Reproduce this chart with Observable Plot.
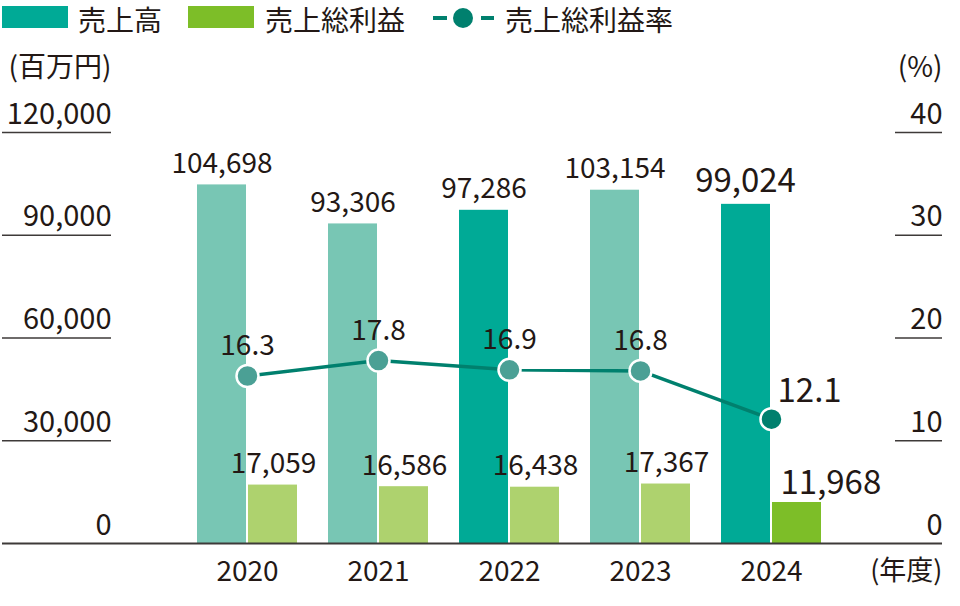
<!DOCTYPE html>
<html>
<head>
<meta charset="utf-8">
<script src="https://cdn.jsdelivr.net/npm/d3@7"></script>
<script src="https://cdn.jsdelivr.net/npm/@observablehq/plot@0.6"></script>
<style>
  html, body { margin: 0; padding: 0; background: #fff; }
  body { width: 960px; height: 606px; overflow: hidden; font-family: 'Noto Sans CJK JP', 'Noto Sans', sans-serif; color: #231815; }
  #legend { position: relative; height: 36px; font-size: 28px; line-height: 1; }
  #legend .sw { position: absolute; top: 6px; width: 66px; height: 22px; }
  #legend .lb { position: absolute; top: 4px; white-space: nowrap; line-height: 30px; height: 30px; }
  #legend svg.ln { position: absolute; top: 6px; }
  #chart svg { display: block; }
</style>
</head>
<body>
<div id="legend">
  <div class="sw" style="left:2px;background:#00AA96"></div>
  <div class="lb" style="left:78px">売上高</div>
  <div class="sw" style="left:188px;background:#7DBE28"></div>
  <div class="lb" style="left:265px">売上総利益</div>
  <svg class="ln" width="64" height="24" style="left:432px">
    <line x1="1" x2="62" y1="12" y2="12" stroke="#00806E" stroke-width="4" stroke-dasharray="14 34"></line>
    <circle cx="31" cy="12" r="10" fill="#00806E"></circle>
  </svg>
  <div class="lb" style="left:505px">売上総利益率</div>
</div>
<div id="chart"></div>
<script>
// ---- data ----
const years = ["2020", "2021", "2022", "2023", "2024"];
const sales = [104698, 93306, 97286, 103154, 99024];          // 売上高 (百万円)
const grossProfit = [17059, 16586, 16438, 17367, 11968];      // 売上総利益 (百万円)
const grossMargin = [16.3, 17.8, 16.9, 16.8, 12.1];           // 売上総利益率 (%)
const leftTicks = [0, 30000, 60000, 90000, 120000];
const rightTicks = [0, 10, 20, 30, 40];

// ---- build table ----
const data = years.map((year, i) => ({year, sales: sales[i], gross: grossProfit[i], margin: grossMargin[i]}));
const RATE = 120000 / 40; // right axis (%) mapped onto the left axis scale
const latest = years[years.length - 1];
const darkSalesYears = new Set(["2022", latest]);

const ink = "#231815";
const axisInk = "#3e3a39";
const fmt = d3.format(",");
const big = 33, normal = 28;

const chart = Plot.plot({
  width: 960,
  height: 570,
  marginLeft: 2,
  marginRight: 18,
  marginTop: 96,
  marginBottom: 63,
  style: {fontFamily: "'Noto Sans CJK JP', 'Noto Sans', sans-serif", color: ink, background: "#fff"},
  x: {type: "band", domain: years, range: [196, 821], paddingInner: 0.237, paddingOuter: 0, axis: null},
  y: {domain: [0, 120000], range: [507, 96], axis: null},
  color: {type: "identity"},
  marks: [
    // left axis short tick lines
    Plot.ruleY(leftTicks.filter(t => t > 0), {y: d => d, insetRight: 831, stroke: axisInk, strokeWidth: 1.3}),
    // right axis short tick lines
    Plot.ruleY(rightTicks.filter(t => t > 0), {y: d => d * RATE, insetLeft: 893, stroke: axisInk, strokeWidth: 1.3}),
    // left tick labels
    Plot.text(leftTicks, {y: d => d, text: d => fmt(d), frameAnchor: "left", textAnchor: "end", dx: 109, dy: -9, lineAnchor: "bottom", fontSize: 29}),
    // right tick labels
    Plot.text(rightTicks, {y: d => d * RATE, text: d => String(d), frameAnchor: "right", textAnchor: "end", dy: -9, lineAnchor: "bottom", fontSize: 29}),
    // unit labels
    Plot.text(["(百万円)"], {y: () => 120000, frameAnchor: "left", textAnchor: "end", dx: 109, dy: -56, lineAnchor: "bottom", fontSize: normal}),
    Plot.text(["(%)"], {y: () => 120000, frameAnchor: "right", textAnchor: "end", dy: -56, lineAnchor: "bottom", fontSize: normal}),
    // sales bars
    Plot.barY(data, {x: "year", y: "sales", insetRight: 51,
      fill: d => darkSalesYears.has(d.year) ? "#00AA96" : "#78C6B4"}),
    // gross profit bars
    Plot.barY(data, {x: "year", y: "gross", insetLeft: 51,
      fill: d => d.year === latest ? "#7DBE28" : "#AED26E"}),
    // baseline
    Plot.ruleY([0], {stroke: axisInk, strokeWidth: 2}),
    // year labels
    Plot.text(data, {x: "year", y: () => 0, text: "year", dy: 37, lineAnchor: "bottom", fontSize: normal}),
    Plot.text(["(年度)"], {y: () => 0, frameAnchor: "right", textAnchor: "end", dy: 36, lineAnchor: "bottom", fontSize: 27}),
    // sales value labels
    Plot.text(data.filter(d => d.year !== latest), {x: "year", y: "sales", text: d => fmt(d.sales), dx: -25.5, dy: -12, lineAnchor: "bottom", fontSize: normal}),
    Plot.text(data.filter(d => d.year === latest), {x: "year", y: "sales", text: d => fmt(d.sales), dx: -26, dy: -12, lineAnchor: "bottom", fontSize: big}),
    // gross profit value labels
    Plot.text(data.filter(d => d.year !== latest), {x: "year", y: "gross", text: d => fmt(d.gross), dx: 26, dy: -12, lineAnchor: "bottom", fontSize: normal}),
    Plot.text(data.filter(d => d.year === latest), {x: "year", y: "gross", text: d => fmt(d.gross), dx: 9, dy: -9, textAnchor: "start", lineAnchor: "bottom", fontSize: big}),
    // gross margin line
    Plot.line(data, {x: "year", y: d => d.margin * RATE, stroke: "#00806E", strokeWidth: 3.5}),
    Plot.dot(data, {x: "year", y: d => d.margin * RATE, r: 11,
      fill: d => d.year === latest ? "#00806E" : "#4BA095", stroke: "#fff", strokeWidth: 2.5}),
    // gross margin labels
    Plot.text(data.filter(d => d.year !== latest), {x: "year", y: d => d.margin * RATE, text: d => d.margin.toFixed(1), dy: -21, lineAnchor: "bottom", fontSize: normal}),
    Plot.text(data.filter(d => d.year === latest), {x: "year", y: d => d.margin * RATE, text: d => d.margin.toFixed(1), dx: 6, dy: -17, textAnchor: "start", lineAnchor: "bottom", fontSize: big})
  ]
});
document.getElementById("chart").appendChild(chart);
</script>
</body>
</html>
